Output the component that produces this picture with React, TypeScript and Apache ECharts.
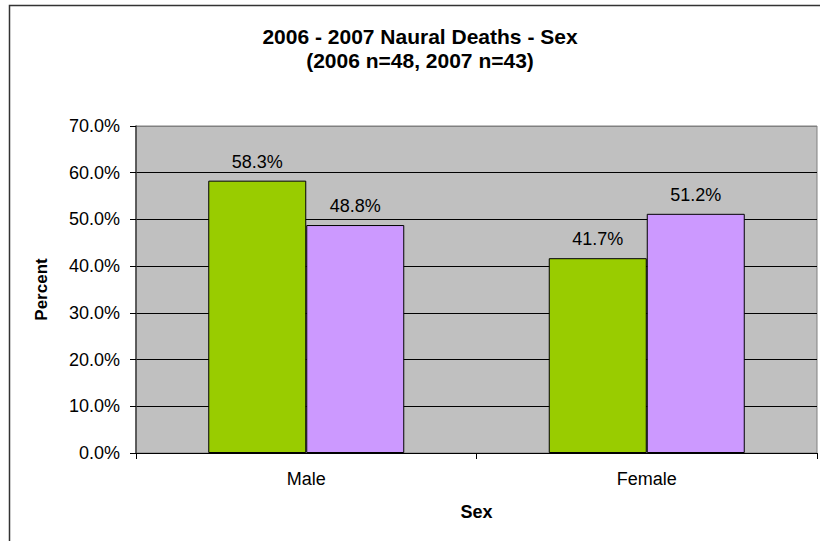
import React, { useEffect, useRef } from "react";
import * as echarts from "echarts";

const categories = ["Male", "Female"];
const series2006 = [58.3, 41.7];
const series2007 = [48.8, 51.2];
const seriesNames = ["2006", "2007"];
const titleLines = ["2006 - 2007 Naural Deaths - Sex", "(2006 n=48, 2007 n=43)"];
const yAxisName = "Percent";
const xAxisName = "Sex";

const FONT = "'Liberation Sans', Arial, Helvetica, sans-serif";

export default function App() {
  const ref = useRef<HTMLDivElement>(null);
  useEffect(() => {
    document.body.style.margin = "0";
    if (!ref.current) return;
    const chart = echarts.init(ref.current, null, { renderer: "svg" });
    const pct = (v: number) => v.toFixed(1) + "%";
    chart.setOption({
      animation: false,
      backgroundColor: "#ffffff",
      textStyle: { fontFamily: FONT },
      graphic: [
        {
          type: "rect",
          z: -10,
          silent: true,
          shape: { x: 9.5, y: 5.5, width: 822, height: 560 },
          style: { fill: "none", stroke: "#333333", lineWidth: 1.5 },
        },
        {
          type: "text",
          x: 420,
          y: 48,
          style: {
            text: titleLines.join("\n"),
            fontFamily: FONT,
            fontSize: 21,
            fontWeight: "bold",
            lineHeight: 24,
            fill: "#000",
            align: "center",
            verticalAlign: "middle",
          },
        },
      ],
      grid: {
        left: 136,
        right: 3,
        top: 126,
        bottom: 88,
        show: true,
        backgroundColor: "#C0C0C0",
        borderColor: "#808080",
        borderWidth: 1,
      },
      xAxis: {
        type: "category",
        data: categories,
        name: xAxisName,
        nameLocation: "middle",
        nameGap: 50,
        nameTextStyle: { fontFamily: FONT, fontSize: 18, fontWeight: "bold", color: "#000" },
        axisLine: { show: true, lineStyle: { color: "#000", width: 1 } },
        axisTick: { show: true, length: 6, lineStyle: { color: "#000" } },
        axisLabel: { fontFamily: FONT, fontSize: 18, color: "#000", margin: 17 },
      },
      yAxis: {
        type: "value",
        min: 0,
        max: 70,
        interval: 10,
        name: yAxisName,
        nameLocation: "middle",
        nameGap: 86,
        nameRotate: 90,
        nameTextStyle: { fontFamily: FONT, fontSize: 17, fontWeight: "bold", color: "#000" },
        axisLine: { show: true, lineStyle: { color: "#404040", width: 1.5 } },
        axisTick: { show: true, length: 6, lineStyle: { color: "#000" } },
        axisLabel: {
          fontFamily: FONT,
          fontSize: 18,
          color: "#000",
          margin: 16,
          formatter: (v: number) => pct(v),
        },
        splitLine: {
          show: true,
          lineStyle: {
            color: ["#000", "#000", "#000", "#000", "#000", "#000", "#000", "#808080"],
            width: 1,
          },
        },
      },
      series: [
        {
          name: seriesNames[0],
          type: "bar",
          data: series2006,
          barWidth: 98,
          barGap: "0%",
          itemStyle: { color: "#99CC00", borderColor: "#000", borderWidth: 1 },
          label: {
            show: true,
            position: "top",
            distance: 10,
            fontFamily: FONT,
            fontSize: 18,
            color: "#000",
            formatter: (p: any) => pct(p.value),
          },
        },
        {
          name: seriesNames[1],
          type: "bar",
          data: series2007,
          barWidth: 98,
          barGap: "0%",
          itemStyle: { color: "#CC99FF", borderColor: "#000", borderWidth: 1 },
          label: {
            show: true,
            position: "top",
            distance: 10,
            fontFamily: FONT,
            fontSize: 18,
            color: "#000",
            formatter: (p: any) => pct(p.value),
          },
        },
      ],
    });
    return () => chart.dispose();
  }, []);
  return <div ref={ref} style={{ width: 820, height: 541 }} />;
}
